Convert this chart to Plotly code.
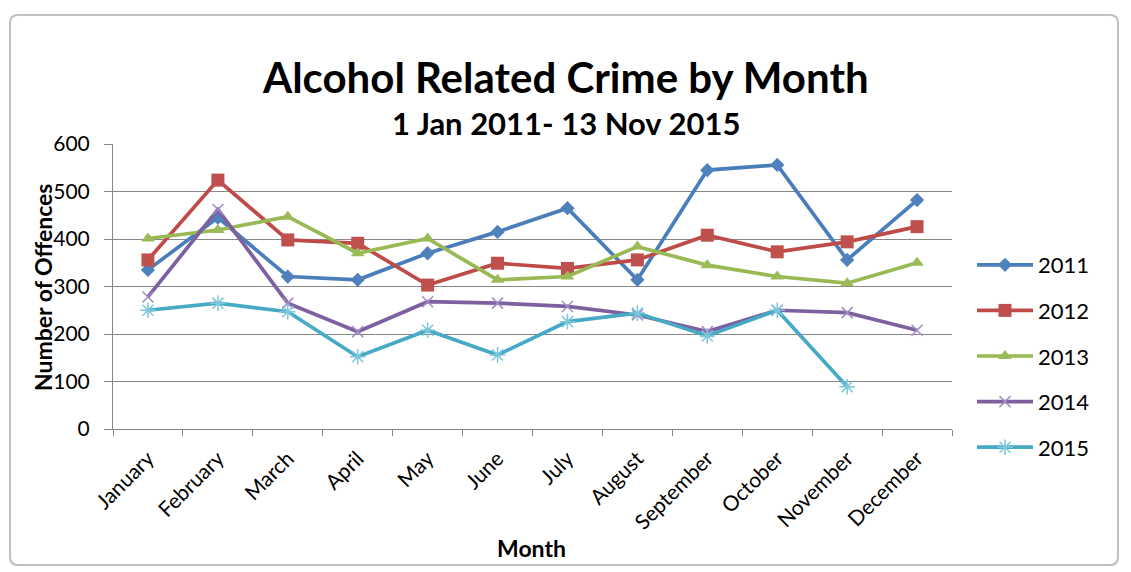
import plotly.graph_objects as go

months = ["January", "February", "March", "April", "May", "June", "July",
          "August", "September", "October", "November", "December"]
y2011 = [335, 445, 321, 314, 370, 415, 465, 314, 545, 556, 356, 482]
y2012 = [356, 524, 398, 391, 303, 349, 338, 356, 408, 373, 394, 426]
y2013 = [401, 419, 447, 370, 401, 314, 321, 384, 345, 321, 307, 350]
y2014 = [278, 462, 265, 205, 268, 265, 258, 240, 205, 250, 245, 208]
y2015 = [250, 265, 247, 152, 208, 156, 226, 244, 196, 250, 89, None]
years = ["2011", "2012", "2013", "2014", "2015"]
yticks = [0, 100, 200, 300, 400, 500, 600]

FONT = "Lato, 'Open Sans', sans-serif"
OFF = 8  # page body margin
W, H = 1131 - OFF, 572 - OFF
# plot area bounds in screenshot pixels
L, R, T, B = 113, 952, 144, 429


def px_x(p):
    return (p - L) / (R - L)


def px_y(p):
    return (B - p) / (B - T)


series = [
    (y2011, "#4A7EBB", dict(symbol="diamond", size=11, color="#4F81BD", line=dict(width=0))),
    (y2012, "#BE4B48", dict(symbol="square", size=13, color="#C0504D", line=dict(width=0))),
    (y2013, "#98B954", dict(symbol="triangle-up", size=12, color="#9BBB59", line=dict(width=0))),
    (y2014, "#7D60A0", dict(symbol="x-thin-open", size=11, color="#A38BC4", line=dict(width=1.5, color="#A38BC4"))),
    (y2015, "#46AAC5", dict(symbol="asterisk-open", size=13, color="#7CC7DB", line=dict(width=1.5, color="#7CC7DB"))),
]

fig = go.Figure()
for name, (vals, col, mk) in zip(years, series):
    fig.add_trace(go.Scatter(
        x=months, y=vals, name=name, mode="lines+markers",
        line=dict(color=col, width=3.7), marker=mk,
        legendgroup=name, connectgaps=False,
    ))

# rounded chart frame
x0, x1 = px_x(10), px_x(1118)
y0, y1 = px_y(565), px_y(15)
rx, ry = 8 / (R - L), 8 / (B - T)
path = (f"M {x0+rx},{y1} L {x1-rx},{y1} Q {x1},{y1} {x1},{y1-ry} "
        f"L {x1},{y0+ry} Q {x1},{y0} {x1-rx},{y0} L {x0+rx},{y0} "
        f"Q {x0},{y0} {x0},{y0+ry} L {x0},{y1-ry} Q {x0},{y1} {x0+rx},{y1} Z")

fig.update_layout(
    width=W, height=H,
    margin=dict(l=L - OFF, r=W - (R - OFF), t=T - OFF, b=H - (B - OFF)),
    paper_bgcolor="white", plot_bgcolor="white",
    font=dict(family=FONT, color="#000000"),
    showlegend=True,
    legend=dict(
        x=px_x(972), xanchor="left", y=px_y(244), yanchor="top",
        font=dict(size=22, family=FONT, color="#000000"),
        tracegroupgap=14, itemwidth=56, bgcolor="rgba(0,0,0,0)",
    ),
    xaxis=dict(
        type="category", showgrid=False, showline=True, linecolor="#878787", linewidth=1,
        ticks="outside", tickson="boundaries", ticklen=6, tickcolor="#878787",
        tickangle=-45, tickfont=dict(size=21, family=FONT, color="#000000"),
        ticklabelstandoff=8, range=[-0.5, 11.5],
    ),
    yaxis=dict(
        range=[0, 600], tickvals=yticks, showgrid=True, gridcolor="#878787", gridwidth=1,
        showline=True, linecolor="#878787", linewidth=1,
        ticks="outside", ticklen=8, tickcolor="#878787", ticklabelstandoff=10,
        tickfont=dict(size=21, family=FONT, color="#000000"), zeroline=False,
    ),
    shapes=[dict(type="path", xref="paper", yref="paper", path=path,
                 line=dict(color="#BFBFBF", width=2), layer="below")],
    annotations=[
        dict(text="<b>Alcohol Related Crime by Month</b>", xref="paper", yref="paper",
             x=px_x(565), y=px_y(77), showarrow=False, xanchor="center", yanchor="middle",
             font=dict(size=42, family=FONT, color="#000000")),
        dict(text="<b>1 Jan 2011- 13 Nov 2015</b>", xref="paper", yref="paper",
             x=px_x(566), y=px_y(123), showarrow=False, xanchor="center", yanchor="middle",
             font=dict(size=31, family=FONT, color="#000000")),
        dict(text="<b>Number of Offences</b>", xref="paper", yref="paper",
             x=px_x(43), y=px_y(288), showarrow=False, textangle=-90,
             xanchor="center", yanchor="middle",
             font=dict(size=23, family=FONT, color="#000000")),
        dict(text="<b>Month</b>", xref="paper", yref="paper",
             x=px_x(531), y=px_y(548), showarrow=False, xanchor="center", yanchor="middle",
             font=dict(size=23, family=FONT, color="#000000")),
    ],
)

fig.write_html("out.html")
